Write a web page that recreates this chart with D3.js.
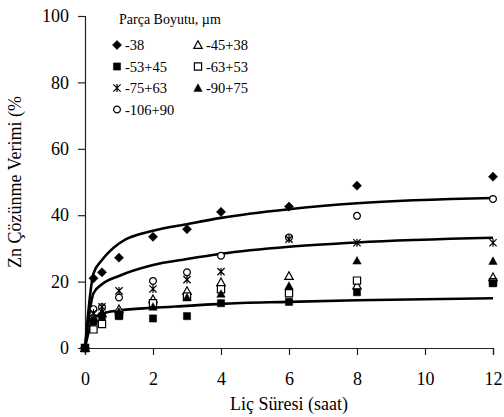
<!DOCTYPE html>
<html>
<head>
<meta charset="utf-8">
<script src="https://cdn.jsdelivr.net/npm/d3@7"></script>
<style>
  body { margin: 0; background: #fff; }
  svg { display: block; }
  svg text { font-family: "Liberation Serif", "Times New Roman", Tinos, "DejaVu Serif", serif; }
</style>
</head>
<body>
<div id="chart"></div>
<script>
// leaching time (h)
const hours = [0, 0.25, 0.5, 1, 2, 3, 4, 6, 8, 12];

// Zn dissolution (%) per particle size fraction
const s38 = [0, 21.0, 22.8, 27.2, 33.5, 35.8, 41.0, 42.6, 48.9, 51.6];
const s45_38 = [0, 9.0, 10.5, 11.7, 14.7, 17.2, 19.8, 21.7, 18.8, 21.3];
const s53_45 = [0, 8.0, 9.5, 9.6, 8.9, 9.6, 13.5, 13.9, 16.8, 19.5];
const s63_53 = [0, 5.6, 7.2, 9.9, 13.5, 15.5, 17.7, 16.5, 20.3, 19.8];
const s75_63 = [0, 10.5, 12.4, 17.2, 17.8, 20.6, 23.0, 32.8, 31.7, 31.7];
const s90_75 = [0, 8.5, 10.5, 10.9, 12.4, 15.2, 16.3, 18.7, 26.3, 26.2];
const s106_90 = [0, 11.7, 12.3, 15.2, 20.2, 22.8, 27.8, 33.3, 39.8, 44.9];

// fitted curves
const fitUpper = [0, 22.5, 26.5, 31.5, 35.3, 37.3, 39.2, 41.8, 43.6, 45.2];
const fitMiddle = [0, 16.5, 19.2, 21.7, 25.0, 26.8, 28.4, 30.5, 31.8, 33.2];
const fitLower = [0, 9.0, 10.3, 11.3, 12.1, 12.7, 13.3, 13.9, 14.4, 15.0];

const sizeLabels = ["-38", "-45+38", "-53+45", "-63+53", "-75+63", "-90+75", "-106+90"];
const sizeMarkers = ["diamond", "triangleOpen", "square", "squareOpen", "star", "triangle", "circleOpen"];
const xTicks = [0, 2, 4, 6, 8, 10, 12];
const yTicks = [0, 20, 40, 60, 80, 100];

const width = 504, height = 417;

const svg = d3.select("#chart").append("svg")
    .attr("width", width)
    .attr("height", height);

const x = d3.scaleLinear().domain([0, 12]).range([85, 493]);
const y = d3.scaleLinear().domain([0, 100]).range([348, 16]);

// marker shapes
function markerPath(type) {
    const p = d3.path();
    if (type === "diamond") {
        p.moveTo(0, -4.6); p.lineTo(4.6, 0); p.lineTo(0, 4.6); p.lineTo(-4.6, 0); p.closePath();
    } else if (type === "square" || type === "squareOpen") {
        p.rect(-3.6, -3.6, 7.2, 7.2);
    } else if (type === "triangle" || type === "triangleOpen") {
        p.moveTo(0, -4.2); p.lineTo(4.2, 3.4); p.lineTo(-4.2, 3.4); p.closePath();
    } else if (type === "circleOpen") {
        p.arc(0, 0, 3.4, 0, 2 * Math.PI);
    } else if (type === "star") {
        p.moveTo(-3.6, -3.6); p.lineTo(3.6, 3.6);
        p.moveTo(3.6, -3.6); p.lineTo(-3.6, 3.6);
        p.moveTo(0, -4); p.lineTo(0, 4);
    }
    return p.toString();
}

function styleMarker(sel, type) {
    const open = type.endsWith("Open") || type === "star";
    sel.attr("d", markerPath(type))
        .attr("fill", type === "star" ? "none" : (open ? "#fff" : "#000"))
        .attr("stroke", "#000")
        .attr("stroke-width", open ? 1.2 : 0.5);
}

// axes
const xAxis = svg.append("g")
    .attr("transform", `translate(0,${y(0)})`)
    .call(d3.axisBottom(x).tickValues(xTicks).tickSize(7).tickPadding(17));
const yAxis = svg.append("g")
    .attr("transform", `translate(${x(0)},0)`)
    .call(d3.axisLeft(y).tickValues(yTicks).tickSize(7).tickPadding(9));

[xAxis, yAxis].forEach(a => {
    a.attr("font-family", null);
    a.select(".domain").attr("stroke", "#222").attr("stroke-width", 1.2);
    a.selectAll(".tick line").attr("stroke", "#222").attr("stroke-width", 1.2);
    a.selectAll(".tick text")
        .attr("fill", "#000")
        .style("font-size", "18px");
});

// axis titles
svg.append("text")
    .attr("x", x(6))
    .attr("y", 410)
    .attr("text-anchor", "middle")
    .style("font-size", "18px")
    .text("Liç Süresi (saat)");

svg.append("text")
    .attr("transform", `translate(21,${(y(0) + y(100)) / 2}) rotate(-90)`)
    .attr("text-anchor", "middle")
    .style("font-size", "18px")
    .text("Zn Çözünme Verimi (%");

// fitted curves
const line = d3.line()
    .x((d, i) => x(hours[i]))
    .y(d => y(d))
    .curve(d3.curveMonotoneX);

[fitUpper, fitMiddle, fitLower].forEach(fit => {
    svg.append("path")
        .attr("d", line(fit))
        .attr("fill", "none")
        .attr("stroke", "#000")
        .attr("stroke-width", 2.6);
});

// data points
const allSeries = [s38, s45_38, s53_45, s63_53, s75_63, s90_75, s106_90];
const drawOrder = [0, 6, 4, 1, 3, 5, 2];
drawOrder.forEach(k => {
    svg.append("g").selectAll("path")
        .data(allSeries[k])
        .enter()
        .append("path")
        .attr("transform", (d, i) => `translate(${x(hours[i])},${y(d)})`)
        .call(sel => styleMarker(sel, sizeMarkers[k]));
});

// legend
const legend = svg.append("g");
legend.append("text")
    .attr("x", 119)
    .attr("y", 24)
    .style("font-size", "14px")
    .text("Parça Boyutu, µm");

sizeLabels.forEach((label, i) => {
    const col = i % 2, row = Math.floor(i / 2);
    const lx = col === 0 ? 117 : 198;
    const ly = 45 + row * 21.5;
    legend.append("path")
        .attr("transform", `translate(${lx},${ly})`)
        .call(sel => styleMarker(sel, sizeMarkers[i]));
    legend.append("text")
        .attr("x", lx + 8)
        .attr("y", ly + 5)
        .style("font-size", "14.5px")
        .text(label);
});
</script>
</body>
</html>
